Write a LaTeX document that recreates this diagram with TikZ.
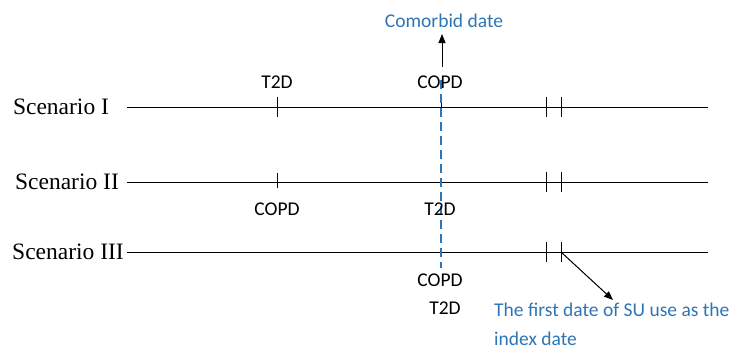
\documentclass[tikz,border=0pt]{standalone}
\usepackage{fontspec}
\setmainfont{Liberation Serif}
\newfontfamily\calibrifont{Carlito}
\usetikzlibrary{arrows.meta}
\definecolor{officeblue}{HTML}{2E75B6}
\tikzset{
  scen/.style={font=\fontsize{23.5}{26}\selectfont, inner sep=0pt},
  evt/.style={font=\calibrifont\fontsize{19.5}{22}\selectfont, inner sep=0pt},
  bluetxt/.style={evt, text=officeblue},
  timeline/.style={line width=1pt},
  tick/.style={line width=1pt}
}
\begin{document}
\begin{tikzpicture}[x=1pt,y=-1pt]
\useasboundingbox (0,0) rectangle (736,351);
% scenario names
\node[scen] (s1) at (61,107) {Scenario I};
\node[scen] (s2) at (67,182) {Scenario II};
\node[scen] (s3) at (68,252) {Scenario III};
% time lines with ticks
\foreach \y/\n in {107/1,182/2,252/3}{
  \coordinate (l\n) at (127,\y);
  \coordinate (r\n) at (708,\y);
  \draw[timeline] (l\n) -- (r\n);
  \draw[tick] (546,\y-10) -- (546,\y+10);
  \draw[tick] (561,\y-10) -- (561,\y+10);
}
\draw[tick] (277,97) -- (277,117);
\draw[tick] (277,173) -- (277,188);
\draw[tick] (441,97) -- (441,117);
% comorbid date
\draw[officeblue, line width=1.6pt, dash pattern=on 9pt off 5pt] (441,80) -- (441,268);
\node[evt] (t2dA) at (277,82) {T2D};
\node[evt] (copdA) at (440,82) {COPD};
\node[evt] (copdB) at (277,209) {COPD};
\node[evt] (t2dB) at (440,209) {T2D};
\node[evt] (copdC) at (440,280) {COPD};
\node[evt] (t2dC) at (445,308) {T2D};
\node[bluetxt] (comorbid) at (444,21) {Comorbid date};
\coordinate (up) at (442,67);
\draw[-{Triangle[length=9pt,width=7pt]}, line width=1pt, shorten >=6pt] (up) -- (up |- comorbid.south);
% index date
\node[bluetxt, anchor=west, align=left, font=\calibrifont\fontsize{19.5}{29}\selectfont] (index) at (494,324) {The first date of SU use as the\\index date};
\coordinate (su) at (561,252);
\coordinate (sutip) at (613,300);
\draw[-{Triangle[length=9pt,width=7pt]}, line width=1pt] (su) -- (sutip);
\end{tikzpicture}
\end{document}
